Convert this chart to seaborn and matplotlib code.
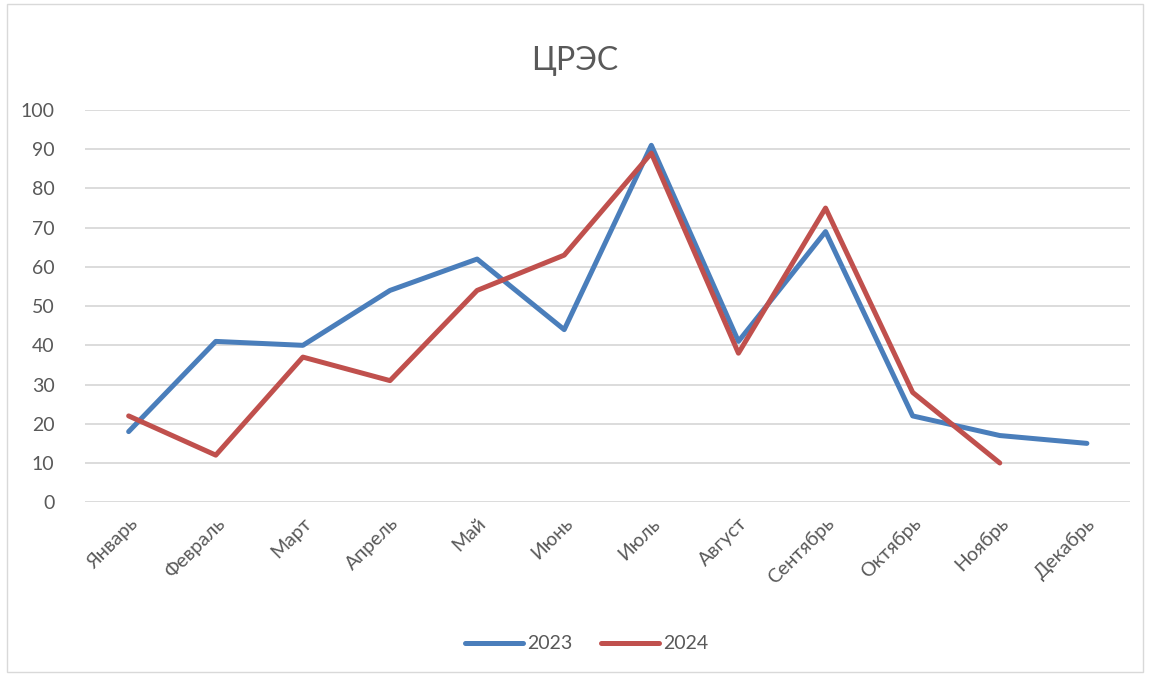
import pandas as pd
import numpy as np
import matplotlib.pyplot as plt
import seaborn as sns
from matplotlib.lines import Line2D

months = ['Январь', 'Февраль', 'Март', 'Апрель', 'Май', 'Июнь',
          'Июль', 'Август', 'Сентябрь', 'Октябрь', 'Ноябрь', 'Декабрь']
values_2023 = [18, 41, 40, 54, 62, 44, 91, 41, 69, 22, 17, 15]
values_2024 = [22, 12, 37, 31, 54, 63, 89, 38, 75, 28, 10]
y_ticks = [0, 10, 20, 30, 40, 50, 60, 70, 80, 90, 100]

df = pd.concat([
    pd.DataFrame({'month': np.arange(len(values_2023)), 'value': values_2023, 'year': '2023'}),
    pd.DataFrame({'month': np.arange(len(values_2024)), 'value': values_2024, 'year': '2024'}),
])

sns.set_theme(style='white')
plt.rcParams['font.family'] = ['Lato', 'DejaVu Sans']
text_color = '#595959'

fig = plt.figure(figsize=(11.5, 6.75), dpi=100)
ax = fig.add_axes([0.074, 0.256, 0.909, 0.581])

sns.lineplot(data=df, x='month', y='value', hue='year',
             palette={'2023': '#4a7ebb', '2024': '#c0504d'},
             linewidth=3.6, ax=ax, legend=False,
             solid_capstyle='round', solid_joinstyle='round')

ax.set_xlim(-0.5, len(months) - 0.5)
ax.set_ylim(0, 100)
ax.set_yticks(y_ticks)
ax.set_xticks(np.arange(len(months)))
ax.set_xticklabels(months, rotation=45, ha='right', rotation_mode='anchor')
ax.tick_params(axis='x', colors=text_color, labelsize=14, length=0, pad=9)
ax.tick_params(axis='y', colors=text_color, labelsize=14, length=0, pad=22)
ax.grid(axis='y', color='#d9d9d9', linewidth=1.3)
ax.set_axisbelow(True)
for s in ax.spines.values():
    s.set_visible(False)
ax.set_xlabel('')
ax.set_ylabel('')

fig.text(0.5, 0.91, 'ЦРЭС', ha='center', va='center', fontsize=23, color=text_color)

handles = [Line2D([], [], color='#4a7ebb', linewidth=3.6, solid_capstyle='round'),
           Line2D([], [], color='#c0504d', linewidth=3.6, solid_capstyle='round')]
fig.legend(handles, ['2023', '2024'], loc='center', bbox_to_anchor=(0.51, 0.046),
           ncol=2, frameon=False, fontsize=14, labelcolor=text_color,
           handlelength=3.0, handletextpad=0.2, columnspacing=1.5)

fig.patches.append(plt.Rectangle((0.006, 0.004), 0.988, 0.99, transform=fig.transFigure,
                                 fill=False, edgecolor='#d9d9d9', linewidth=1))

fig.savefig('out.png', dpi=100)
